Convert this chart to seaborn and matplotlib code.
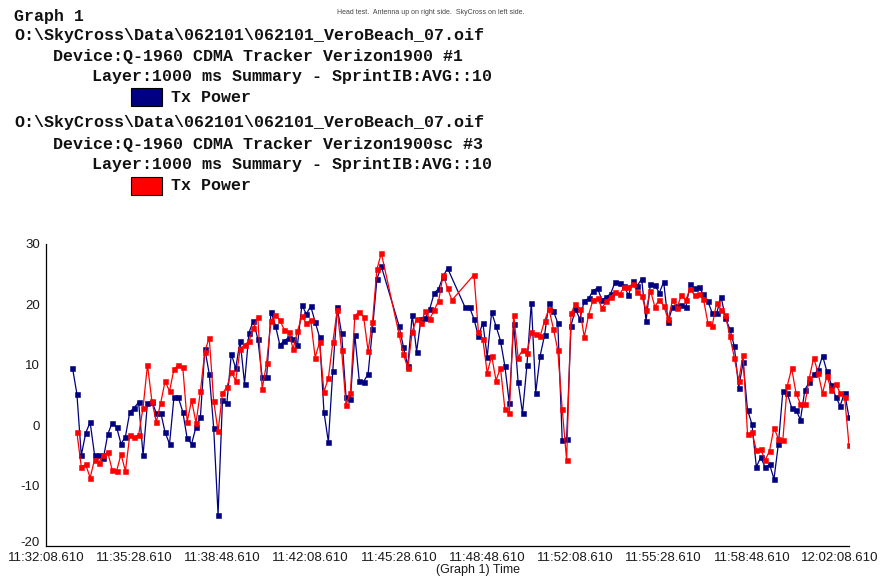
import numpy as np
import pandas as pd
import matplotlib
matplotlib.use("Agg")
import matplotlib.pyplot as plt
from matplotlib.patches import Rectangle
from matplotlib.transforms import ScaledTranslation
import seaborn as sns

# Sampling of the 10-second averaged summary layer (seconds after 11:32:08.610)
SAMPLE_PERIOD_S = 10
FIRST_SAMPLE_S = 60

nan = np.nan

# Tx Power, Verizon1900 #1 (dBm)
tx_power_unit1 = [
    9.5, 5.2, -5.0, -1.3, 0.5, -4.9, -5.0, -5.5, -1.5, 0.4,
    -0.3, -3.1, -1.9, 2.2, 2.9, 3.8, -5.0, 3.7, 3.9, 2.0,
    2.1, -1.2, -3.1, 4.6, 4.6, 2.2, -2.2, -3.1, -0.3, 1.4,
    12.6, 8.5, -0.4, -14.8, 4.2, 3.7, 11.8, 9.4, 14.0, 6.9,
    15.3, 17.3, 14.3, 7.9, 7.9, 18.8, 16.5, 13.3, 14.0, 14.5,
    14.2, 13.3, 19.9, 18.4, 19.7, 17.1, 14.6, 2.2, -2.8, 9.0,
    19.5, 15.2, 4.7, 4.4, 14.9, 7.4, 7.2, 8.5, 15.9, 24.2,
    26.3, nan, nan, nan, 16.5, 13.0, 9.8, 18.3, 12.2, 17.6,
    17.8, 19.3, 21.9, 22.6, 24.6, 26.0, nan, nan, nan, 19.5,
    19.5, 17.6, 14.7, 17.0, 11.3, 18.7, 16.4, 14.0, 9.8, 3.7,
    16.8, 7.2, 2.0, 9.9, 20.3, 5.4, 11.5, 14.9, 20.3, 18.9,
    16.9, -2.5, -2.3, 16.5, 19.2, 17.6, 20.6, 21.0, 22.3, 22.7,
    20.7, 21.2, 21.8, 23.7, 23.5, 23.1, 21.5, 23.8, 23.1, 24.2,
    17.3, 23.4, 23.2, 21.9, 23.7, 17.1, 19.6, 19.8, 19.9, 19.5,
    23.3, 22.7, 22.8, 21.7, 20.5, 18.6, 18.5, 21.3, 17.7, 15.9,
    13.1, 6.2, 10.4, 2.5, 0.2, -6.9, -5.3, -7.0, -6.5, -8.9,
    -3.1, 5.6, 5.3, 2.9, 2.5, 0.9, 5.9, 7.1, 8.4, 9.1,
    11.5, 8.9, 6.7, 4.7, 3.2, 5.4, 1.3,
]

# Tx Power, Verizon1900sc #3 (dBm)
tx_power_unit3 = [
    nan, -1.2, -6.9, -6.5, -8.7, -5.7, -6.2, -4.9, -4.5, -7.4,
    -7.6, -4.8, -7.6, -1.6, -2.0, -1.6, 2.9, 10.0, 4.0, 0.5,
    3.7, 7.3, 5.6, 9.3, 9.9, 9.6, 0.6, 4.1, 0.4, 5.6,
    12.2, 14.5, 4.0, -1.0, 5.3, 6.3, 8.8, 7.4, 12.6, 13.3,
    13.9, 16.1, 17.9, 6.0, 10.3, 17.3, 18.3, 17.4, 15.8, 15.5,
    12.6, 15.6, 18.0, 16.9, 17.4, 11.2, 13.7, 5.5, 7.8, 13.7,
    19.0, 12.4, 3.4, 5.3, 18.1, 18.8, 17.9, 12.3, 17.1, 25.8,
    28.5, nan, nan, nan, 15.1, 11.8, 9.4, 15.5, 17.6, 17.0,
    18.9, 17.6, 19.1, 20.6, 24.9, 22.7, 20.7, nan, nan, nan,
    nan, 24.9, 15.5, 14.3, 8.6, 11.5, 7.4, 9.5, 2.7, 2.0,
    18.3, 11.2, 12.4, 12.0, 15.4, 15.1, 14.7, 17.3, 19.2, 16.0,
    12.4, 2.7, -5.8, 18.5, 20.1, 19.2, 14.6, 18.3, 20.8, 21.0,
    19.4, 20.5, 21.3, 22.0, 21.7, 22.8, 22.9, 23.4, 22.1, 21.4,
    19.1, 22.3, 19.6, 20.8, 19.8, 17.5, 20.7, 19.4, 21.5, 20.7,
    22.6, 21.5, 21.7, 20.9, 17.0, 16.5, 20.3, 19.1, 18.3, 14.7,
    11.2, 7.4, 11.7, -1.5, -1.2, -4.1, -4.0, -5.8, -4.2, -0.4,
    -2.3, -2.5, 6.5, 9.4, 5.3, 3.5, 3.5, 7.8, 11.2, 8.6,
    5.3, 8.2, 5.8, 6.9, 5.3, 4.7, -3.3,
]

x_tick_seconds = [0, 200, 400, 600, 800, 1000, 1200, 1400, 1600, 1800]
x_tick_labels = ["11:32:08.610", "11:35:28.610", "11:38:48.610", "11:42:08.610",
                 "11:45:28.610", "11:48:48.610", "11:52:08.610", "11:55:28.610",
                 "11:58:48.610", "12:02:08.610"]
y_ticks = [-20, -10, 0, 10, 20, 30]

file_path = r"O:\SkyCross\Data\062101\062101_VeroBeach_07.oif"
devices = ["Device:Q-1960 CDMA Tracker Verizon1900 #1",
           "Device:Q-1960 CDMA Tracker Verizon1900sc #3"]
layer = "Layer:1000 ms Summary - SprintIB:AVG::10"
series_name = "Tx Power"
note = "Head test.  Antenna up on right side.  SkyCross on left side."

NAVY = "#000080"
RED = "#ff0000"


def to_frame(values):
    vals = np.asarray(values, dtype=float)
    secs = FIRST_SAMPLE_S + SAMPLE_PERIOD_S * np.arange(len(vals))
    df = pd.DataFrame({"seconds": secs, "tx": vals})
    return df.dropna()


sns.set_theme(style="white")
plt.rcParams["font.family"] = ["Liberation Sans", "DejaVu Sans"]
plt.rcParams["axes.unicode_minus"] = False

W, H = 880, 576
fig = plt.figure(figsize=(W / 100, H / 100), dpi=100)
fig.patch.set_facecolor("white")

ax = fig.add_axes([46 / W, 1 - 546 / H, (849 - 46) / W, (546 - 244) / H])
ax.set_facecolor("white")

for values, col in [(tx_power_unit1, NAVY), (tx_power_unit3, RED)]:
    sns.lineplot(data=to_frame(values), x="seconds", y="tx", ax=ax,
                 color=col, linewidth=0.9, marker="s", markersize=3.6,
                 markeredgecolor=col, markeredgewidth=0.4, estimator=None)

ax.set_xlim(0, 1820)
ax.set_ylim(-20, 30)
ax.set_xticks(x_tick_seconds)
ax.set_xticklabels(x_tick_labels)
ax.set_yticks(y_ticks)
ax.set_yticklabels([str(v) for v in y_ticks])
ax.set_xlabel("")
ax.set_ylabel("")
ax.tick_params(axis="both", which="major", direction="out", length=3,
               width=0.9, color="black", labelsize=9.5, labelcolor="#1a1a1a", pad=1)
ax.tick_params(axis="y", pad=1.5)
for side in ["top", "right"]:
    ax.spines[side].set_visible(False)
for side in ["left", "bottom"]:
    ax.spines[side].set_color("black")
    ax.spines[side].set_linewidth(0.9)
ax.grid(False)

# lift the bottom y label a little so it clears the first time label
bottom_label = ax.get_yticklabels()[0]
bottom_label.set_transform(bottom_label.get_transform()
                           + ScaledTranslation(0, 4 / 100, fig.dpi_scale_trans))

fig.text(478 / W, 1 - 570 / H, "(Graph 1) Time", ha="center", va="center",
         fontsize=9, color="#1a1a1a")

# Header block
mono = dict(family="Liberation Mono", fontweight="bold", fontsize=12, color="#111111",
            va="center", ha="left")
fig.text(14 / W, 1 - 17 / H, "Graph 1", **mono)
header_rows = [
    (14, 35.5, file_path), (53, 56, devices[0]), (92, 77, layer), (171, 98, series_name),
    (14, 122.5, file_path), (53, 144, devices[1]), (92, 164.5, layer), (171, 185, series_name),
]
for xp, yp, txt in header_rows:
    fig.text(xp / W, 1 - yp / H, txt, **mono)

for top_px, col in [(88, NAVY), (176.5, RED)]:
    fig.patches.append(Rectangle((131 / W, 1 - (top_px + 18) / H), 31 / W, 18 / H,
                                 transform=fig.transFigure, facecolor=col,
                                 edgecolor="black", linewidth=0.8))

fig.text(431 / W, 1 - 12 / H, note, ha="center", va="center", fontsize=5,
         color="#444444")

fig.savefig("out.png", dpi=100, facecolor="white")
